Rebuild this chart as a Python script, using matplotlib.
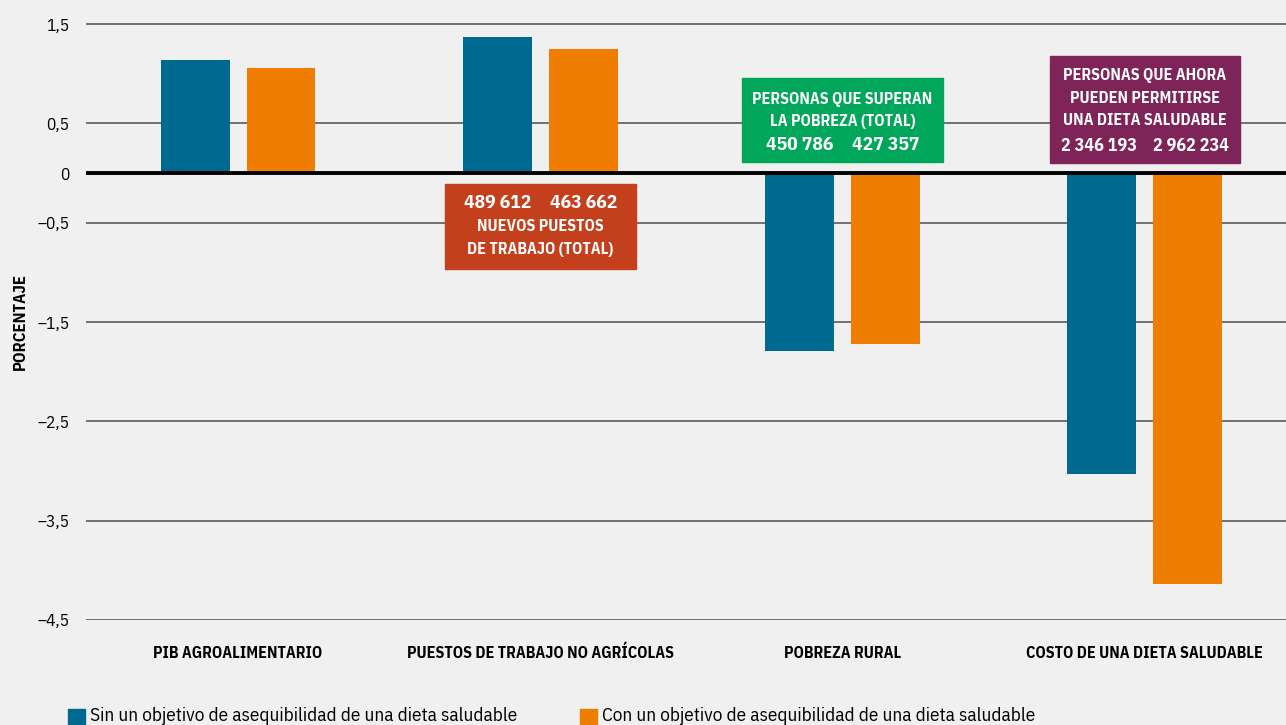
import numpy as np
import matplotlib
matplotlib.use("Agg")
import matplotlib.pyplot as plt
from matplotlib.patches import Rectangle

plt.rcParams['font.family'] = ['IBM Plex Sans Condensed', 'DejaVu Sans']

# data
categories = ["PIB AGROALIMENTARIO", "PUESTOS DE TRABAJO NO AGRÍCOLAS",
              "POBREZA RURAL", "COSTO DE UNA DIETA SALUDABLE"]
sin_objetivo = [1.14, 1.37, -1.79, -3.03]
con_objetivo = [1.06, 1.25, -1.72, -4.14]
series_names = ["Sin un objetivo de asequibilidad de una dieta saludable",
                "Con un objetivo de asequibilidad de una dieta saludable"]
yticks = [1.5, 0.5, 0, -0.5, -1.5, -2.5, -3.5, -4.5]
ytick_labels = ["1,5", "0,5", "0", "–0,5", "–1,5", "–2,5", "–3,5", "–4,5"]

# annotation boxes: text lines and the totals above each bar
notes = {
    1: ["NUEVOS PUESTOS", "DE TRABAJO (TOTAL)"],
    2: ["PERSONAS QUE SUPERAN", "LA POBREZA (TOTAL)"],
    3: ["PERSONAS QUE AHORA", "PUEDEN PERMITIRSE", "UNA DIETA SALUDABLE"],
}
note_numbers = {
    1: ["489 612", "463 662"],
    2: ["450 786", "427 357"],
    3: ["2 346 193", "2 962 234"],
}

BLUE = "#006990"
ORANGE = "#ef7d00"
BG = "#f0f0f0"
note_colors = {1: "#c43f1c", 2: "#00a65a", 3: "#7e2459"}

W, H = 1286, 725
fig = plt.figure(figsize=(W / 100, H / 100), dpi=100, facecolor=BG)
ax = fig.add_axes([86 / W, 105 / H, 1 - 86 / W, 610 / H])
ax.set_facecolor(BG)

x = np.arange(len(categories))
w = 0.228
off = 0.142
ax.bar(x - off, sin_objetivo, w, color=BLUE, zorder=3)
ax.bar(x + off, con_objetivo, w, color=ORANGE, zorder=3)

u = 99.33  # px per unit
ax.set_xlim(-0.503, 3.467)
ax.set_ylim(-4.5, 1.5 + 14 / u)
ax.set_yticks(yticks)
ax.set_yticklabels(ytick_labels, fontsize=12.5)
for t in yticks:
    if t != 0:
        ax.axhline(t, color="#666666", lw=1.3, zorder=1)
ax.axhline(0, color="black", lw=2.8, zorder=4)

ax.set_xticks(x)
ax.set_xticklabels(categories, fontsize=11.5, fontweight="bold")
for lbl in ax.get_xticklabels():
    lbl.set_verticalalignment("baseline")
ax.tick_params(axis="both", length=0)
ax.tick_params(axis="y", pad=12)
ax.tick_params(axis="x", pad=27)
for s in ax.spines.values():
    s.set_visible(False)

fig.text(20 / W, 1 - 322 / H, "PORCENTAJE", rotation=90, ha="center",
         va="center", fontsize=12, fontweight="bold")

# boxes: top / bottom in px from the zero line, line positions in px
box_geom = {
    1: dict(top=-11, bottom=-96, width=0.63, num_y=-30, line_y=[-53, -76], num_fs=14),
    2: dict(top=95, bottom=11, width=0.666, num_y=28, line_y=[73, 51], num_fs=14),
    3: dict(top=117, bottom=10, width=0.63, num_y=27, line_y=[97, 74, 52], num_fs=13),
}
for i, g in box_geom.items():
    top, bot = g["top"] / u, g["bottom"] / u
    ax.add_patch(Rectangle((i - g["width"] / 2, bot), g["width"], top - bot,
                           color=note_colors[i], zorder=5))
    for yy, txt in zip(g["line_y"], notes[i]):
        ax.text(i, yy / u, txt, color="white", ha="center", va="center",
                fontsize=11.5, fontweight="bold", zorder=6)
    for j, num in enumerate(note_numbers[i]):
        ax.text(i + (j * 2 - 1) * (off + 0.01 * (i == 3)), g["num_y"] / u, num,
                color="white", ha="center", va="center", fontsize=g["num_fs"],
                fontweight="bold", zorder=6)

# legend along the bottom edge
for name, col, x0 in zip(series_names, [BLUE, ORANGE], [68, 580]):
    fig.patches.append(Rectangle((x0 / W, 0), 17 / W, 16 / H, color=col,
                                 transform=fig.transFigure, figure=fig))
    fig.text((x0 + 22) / W, 9 / H, name, ha="left", va="center", fontsize=13.9)

fig.savefig("out.png", dpi=100, facecolor=BG)
